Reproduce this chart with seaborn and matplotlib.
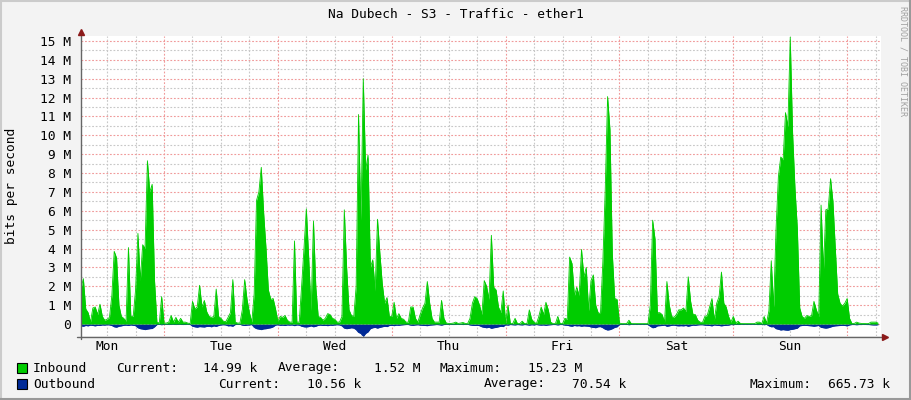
import numpy as np
import pandas as pd
import matplotlib
matplotlib.use("Agg")
import matplotlib.pyplot as plt
from matplotlib.lines import Line2D
from matplotlib.patches import Rectangle
import seaborn as sns

# ---------------- data (Mbit/s, one sample every 30 min, starting Mon 06:30) -------------
inbound = [
    1.9, 2.4, 0.8, 0.6, 0.1, 0.85, 0.9, 0.5, 1.05, 0.4,
    0.2, 0.25, 0.35, 1.5, 3.85, 3.5, 1.0, 0.4, 0.3, 0.15,
    4.05, 0.4, 0.4, 1.8, 4.8, 2.3, 4.2, 4.0, 8.65, 7.0,
    7.4, 2.3, 0.1, 0.05, 1.45, 0.05, 0.05, 0.1, 0.45, 0.1,
    0.35, 0.1, 0.3, 0.1, 0.1, 0.05, 0.02, 1.2, 0.8, 0.9,
    2.05, 0.9, 1.25, 0.65, 0.4, 0.35, 0.4, 1.85, 0.4, 0.3,
    0.15, 0.12, 0.35, 0.6, 2.35, 0.1, 0.05, 0.05, 0.75, 2.35,
    1.3, 0.6, 0.1, 1.6, 6.55, 7.0, 8.3, 5.9, 4.0, 1.8,
    1.3, 1.35, 0.8, 0.15,
    # Tue 12:30 ->
    0.4, 0.35, 0.45, 0.2, 0.1, 0.1, 4.4, 0.1, 0.1, 2.0,
    4.0, 6.1, 3.5, 0.7, 5.45, 1.95, 0.4, 0.35, 0.2, 0.3,
    0.55, 0.5, 0.3, 0.25, 0.1, 0.1, 0.4, 6.05, 2.95, 0.75,
    0.45, 0.4, 2.0, 11.1, 5.5, 13.0, 8.15, 8.95, 3.0, 3.4,
    1.75, 5.55, 3.75, 2.15, 1.1, 1.4, 0.4, 0.4, 1.15, 0.3,
    0.55, 0.3, 0.25, 0.1, 0.1, 0.9, 0.9, 0.3, 0.1, 0.5,
    0.85, 1.1, 2.25, 1.1, 0.3, 0.1, 0.1, 0.1, 1.25, 0.3,
    0.05, 0.03, 0.03, 0.05, 0.1, 0.03, 0.05, 0.08, 0.03, 0.03,
    0.3, 1.1, 1.45, 1.35, 1.0,
    # Thu 07:00 ->
    0.5, 2.3, 2.0, 1.3, 4.7, 1.95, 1.8, 0.9, 0.6, 1.75,
    0.05, 1.0, 0.02, 0.02, 0.3, 0.02, 0.02, 0.15, 0.02, 0.02,
    0.75, 0.25, 0.1, 0.02, 0.4, 0.9, 0.5, 1.15, 0.75, 0.1,
    0.02, 0.02, 0.4, 0.02, 0.02, 0.3, 0.25, 3.55, 3.2, 1.5,
    1.95, 1.5, 3.95, 2.5, 3.0, 0.7, 2.3, 2.6, 1.0, 0.6,
    0.55, 3.3, 7.1, 12.05, 10.3, 3.7, 1.35, 1.3, 0.05, 0.02,
    0.02, 0.02, 0.2, 0.02, 0.02, 0.02, 0.02, 0.02, 0.02, 0.02,
    0.02, 1.0, 5.5, 4.5, 0.6, 0.6, 0.5, 0.1, 2.25, 1.0,
    0.4, 0.35, 0.5, 0.75,
    # Sat 13:00 ->
    0.75, 0.85, 0.65, 2.5, 1.2, 0.5, 0.5, 0.2, 0.1, 0.08,
    0.4, 0.45, 0.9, 1.35, 0.2, 1.1, 1.45, 2.75, 1.1, 0.9,
    0.4, 0.1, 0.4, 0.05, 0.15, 0.03, 0.02, 0.02, 0.02, 0.02,
    0.02, 0.02, 0.1, 0.1, 0.02, 0.4, 0.05, 0.7, 3.35, 0.9,
    5.0, 7.8, 8.85, 8.7, 11.2, 10.45, 15.2, 10.1, 7.2, 5.05,
    0.85, 0.4, 0.3, 0.45, 0.4, 0.45, 1.2, 0.75, 0.4, 6.3,
    2.85, 6.05, 6.1, 7.7, 6.5, 4.0, 1.6, 1.1, 0.95, 1.1,
    1.35, 0.3, 0.03, 0.03, 0.1, 0.05, 0.03, 0.03, 0.02, 0.02,
    0.1, 0.1, 0.1, 0.05,
]

outbound = [
    0.1, 0.12, 0.08, 0.1, 0.06, 0.08, 0.1, 0.07, 0.08, 0.05,
    0.06, 0.04, 0.05, 0.08, 0.15, 0.17, 0.12, 0.1, 0.07, 0.06,
    0.08, 0.05, 0.07, 0.09, 0.2, 0.25, 0.27, 0.3, 0.27, 0.25,
    0.24, 0.15, 0.03, 0.02, 0.04, 0.02, 0.02, 0.03, 0.02, 0.02,
    0.03, 0.02, 0.02, 0.03, 0.02, 0.02, 0.02, 0.12, 0.15, 0.17,
    0.14, 0.15, 0.16, 0.13, 0.12, 0.15, 0.1, 0.13, 0.08, 0.05,
    0.04, 0.05, 0.1, 0.09, 0.12, 0.03, 0.02, 0.02, 0.06, 0.08,
    0.06, 0.05, 0.03, 0.18, 0.25, 0.27, 0.3, 0.26, 0.25, 0.22,
    0.2, 0.15, 0.06, 0.04,
    0.07, 0.06, 0.08, 0.05, 0.06, 0.05, 0.09, 0.05, 0.06, 0.12,
    0.15, 0.16, 0.14, 0.1, 0.15, 0.12, 0.07, 0.06, 0.08, 0.07,
    0.09, 0.06, 0.07, 0.05, 0.04, 0.05, 0.1, 0.22, 0.25, 0.23,
    0.2, 0.22, 0.3, 0.45, 0.5, 0.67, 0.5, 0.42, 0.25, 0.2,
    0.18, 0.22, 0.18, 0.15, 0.12, 0.14, 0.08, 0.07, 0.09, 0.06,
    0.07, 0.05, 0.04, 0.03, 0.03, 0.06, 0.07, 0.05, 0.04, 0.06,
    0.07, 0.08, 0.09, 0.06, 0.05, 0.04, 0.03, 0.04, 0.06, 0.03,
    0.02, 0.02, 0.02, 0.03, 0.02, 0.02, 0.02, 0.03, 0.02, 0.02,
    0.05, 0.07, 0.08, 0.07, 0.09,
    0.15, 0.18, 0.2, 0.17, 0.23, 0.2, 0.18, 0.15, 0.12, 0.14,
    0.04, 0.06, 0.03, 0.04, 0.05, 0.03, 0.04, 0.05, 0.03, 0.04,
    0.06, 0.04, 0.05, 0.03, 0.05, 0.06, 0.05, 0.07, 0.05, 0.04,
    0.03, 0.03, 0.05, 0.03, 0.03, 0.06, 0.07, 0.1, 0.12, 0.08,
    0.1, 0.09, 0.12, 0.1, 0.11, 0.12, 0.16, 0.18, 0.2, 0.15,
    0.14, 0.2, 0.28, 0.32, 0.3, 0.25, 0.18, 0.15, 0.03, 0.02,
    0.02, 0.02, 0.04, 0.02, 0.02, 0.02, 0.02, 0.02, 0.02, 0.02,
    0.03, 0.12, 0.2, 0.18, 0.1, 0.09, 0.08, 0.06, 0.12, 0.1,
    0.07, 0.06, 0.09, 0.1,
    0.09, 0.1, 0.08, 0.12, 0.09, 0.06, 0.07, 0.05, 0.04, 0.04,
    0.06, 0.07, 0.08, 0.1, 0.05, 0.07, 0.08, 0.1, 0.08, 0.07,
    0.06, 0.03, 0.04, 0.02, 0.03, 0.02, 0.02, 0.02, 0.02, 0.02,
    0.02, 0.02, 0.03, 0.03, 0.02, 0.04, 0.02, 0.1, 0.15, 0.14,
    0.25, 0.28, 0.32, 0.3, 0.32, 0.33, 0.3, 0.28, 0.25, 0.22,
    0.1, 0.08, 0.07, 0.08, 0.09, 0.1, 0.12, 0.1, 0.08, 0.18,
    0.2, 0.22, 0.2, 0.16, 0.12, 0.1, 0.09, 0.08, 0.07, 0.08,
    0.1, 0.05, 0.03, 0.03, 0.04, 0.03, 0.03, 0.02, 0.03, 0.03,
    0.04, 0.05, 0.05, 0.04,
]

day_labels = ["Mon", "Tue", "Wed", "Thu", "Fri", "Sat", "Sun"]
ytick_vals = list(range(16))
ytick_labels = ["0"] + [f"{v} M" for v in range(1, 16)]

legend_rows = [
    ("Inbound", "#00CC00", [("Current:", 117), ("14.99 k", 204), ("Average:", 279),
                            ("1.52 M", 375), ("Maximum:", 441), ("15.23 M", 529)]),
    ("Outbound", "#002A97", [("Current:", 219), ("10.56 k", 308), ("Average:", 485),
                             ("70.54 k", 573), ("Maximum:", 750), ("665.73 k", 829)]),
]

# ---------------- figure ----------------
W, H = 911, 400
sns.set_style("white")
plt.rcParams["font.family"] = ["DejaVu Sans Mono"]
FS = 9.3

fig = plt.figure(figsize=(W / 100, H / 100), dpi=100)
fig.patch.set_facecolor("#F3F3F3")

def fx(px):
    return px / W

def fy(py):
    return 1 - py / H

ax_l, ax_r, ax_t, ax_b = 81, 881, 36, 336
ax = fig.add_axes([fx(ax_l), fy(ax_b), (ax_r - ax_l) / W, (ax_b - ax_t) / H])
ax.set_facecolor("white")

n = len(inbound)
hours = np.arange(n) * 0.5
df = pd.DataFrame({"hour": hours, "in": inbound, "out": -np.array(outbound[:n])})

ax.fill_between(df["hour"], 0, df["out"], color="#002A97", lw=0, zorder=3)
ax.fill_between(df["hour"], 0, df["in"], color="#00CC00", lw=0, zorder=4)
sns.lineplot(data=df, x="hour", y="in", ax=ax, color="#00CC00", lw=0.6, zorder=5)
sns.lineplot(data=df, x="hour", y="out", ax=ax, color="#002A97", lw=0.6, zorder=3)

xmax = 168 * (ax_r - ax_l) / 797.0
ax.set_xlim(0, xmax)
ax.set_ylim(-0.636, 15.26)
ax.set_xlabel("")
ax.set_ylabel("")

# grid
ax.set_axisbelow(True)
ax.set_yticks(ytick_vals)
ax.set_yticklabels(ytick_labels, fontsize=FS)
ax.set_yticks(np.arange(0.5, 15.5, 1.0), minor=True)
midnights = np.arange(17.5, 168, 24)
sixes = np.arange(5.5, 168, 6)
ax.set_xticks(midnights)
ax.set_xticks([s for s in sixes if s not in set(midnights)], minor=True)
ax.tick_params(axis="x", which="both", labelbottom=False, direction="inout",
               length=4, width=0.8, color="#777777")
ax.tick_params(axis="y", which="major", direction="inout", length=4, width=0.8,
               color="#777777", pad=5, labelcolor="black")
ax.tick_params(axis="y", which="minor", direction="inout", length=3, width=0.8,
               color="#999999")
ax.grid(which="major", color="#F09A9A", linestyle=(0, (1.6, 1.6)), lw=0.8, zorder=0)
ax.grid(which="minor", color="#C8C8C8", linestyle=(0, (1.6, 1.6)), lw=0.8, zorder=0)
for s in ax.spines.values():
    s.set_visible(False)

# day labels at noon
for k, lab in enumerate(day_labels):
    ax.text(5.5 + 24 * k, -(346 - ax_b) / (ax_b - ax_t), lab,
            transform=ax.get_xaxis_transform(), ha="center", va="center",
            fontsize=FS, color="black")

# axis lines with arrows
fig.add_artist(Line2D([fx(80.5), fx(80.5)], [fy(339), fy(33)], color="#666666", lw=1.0))
fig.add_artist(Line2D([fx(77), fx(883)], [fy(336.5), fy(336.5)], color="#666666", lw=1.0))
fig.add_artist(Line2D([fx(80.5)], [fy(31.5)], marker="^", markersize=5, color="#8B1A1A", lw=0))
fig.add_artist(Line2D([fx(885)], [fy(336.5)], marker=">", markersize=5, color="#8B1A1A", lw=0))

# texts
fig.text(0.5, fy(14), "Na Dubech - S3 - Traffic - ether1", ha="center", va="center",
         fontsize=FS, color="black")
fig.text(fx(12), fy(186), "bits per second", rotation=90, ha="center", va="center",
         fontsize=FS, color="black")
fig.text(fx(903), fy(61), "RRDTOOL / TOBI OETIKER", rotation=270, ha="center", va="center",
         fontsize=6.0, color="#A0A0A0")

row_y = [368, 384]
for (name, col, items), yy in zip(legend_rows, row_y):
    fig.add_artist(Rectangle((fx(17), fy(yy + 5)), 10 / W, 10 / H, facecolor=col,
                             edgecolor="black", lw=0.8))
    fig.text(fx(33), fy(yy), name, ha="left", va="center", fontsize=FS, color="black")
    for txt, xx in items:
        fig.text(fx(xx - 1), fy(yy), txt, ha="left", va="center", fontsize=FS, color="black")

# 3D frame
fig.add_artist(Line2D([0, 1], [fy(1), fy(1)], color="#CBCBCB", lw=1.5))
fig.add_artist(Line2D([fx(1), fx(1)], [0, 1], color="#CBCBCB", lw=1.5))
fig.add_artist(Line2D([0, 1], [fy(399), fy(399)], color="#999999", lw=1.5))
fig.add_artist(Line2D([fx(910), fx(910)], [0, 1], color="#999999", lw=1.5))

fig.savefig("out.png", dpi=100, facecolor=fig.get_facecolor())
